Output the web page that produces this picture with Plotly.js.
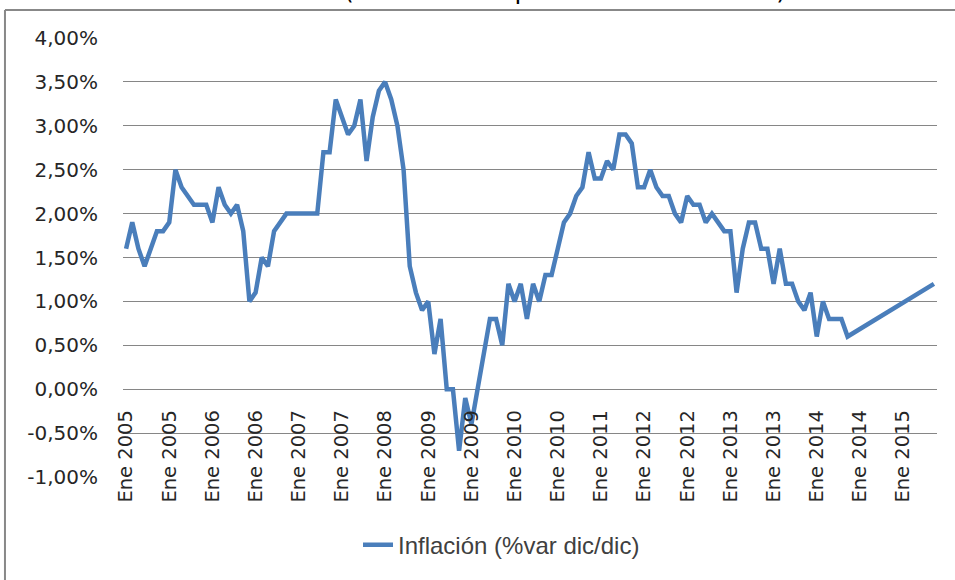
<!DOCTYPE html>
<html>
<head>
<meta charset="utf-8">
<script src="https://cdn.plot.ly/plotly-3.0.1.min.js"></script>
<style>html,body{margin:0;padding:0;background:#fff;}#chart{width:955px;height:580px;}</style>
</head>
<body>
<div id="chart"></div>
<script>
// Monthly categories Jan 2005 .. Dec 2015
const monthNames = ['Ene','Feb','Mar','Abr','May','Jun','Jul','Ago','Sep','Oct','Nov','Dic'];
const years = [2005,2006,2007,2008,2009,2010,2011,2012,2013,2014,2015];
const categories = [];
years.forEach(y => monthNames.forEach(m => categories.push(m + ' ' + y)));

// Inflación (%var dic/dic), one value per month; null = no data (line connects gap)
const inflacion = [
  1.6, 1.9, 1.6, 1.4, 1.6, 1.8, 1.8, 1.9, 2.5, 2.3, 2.2, 2.1,   // 2005
  2.1, 2.1, 1.9, 2.3, 2.1, 2.0, 2.1, 1.8, 1.0, 1.1, 1.5, 1.4,   // 2006
  1.8, 1.9, 2.0, 2.0, 2.0, 2.0, 2.0, 2.0, 2.7, 2.7, 3.3, 3.1,   // 2007
  2.9, 3.0, 3.3, 2.6, 3.1, 3.4, 3.5, 3.3, 3.0, 2.5, 1.4, 1.1,   // 2008
  0.9, 1.0, 0.4, 0.8, 0.0, 0.0, -0.7, -0.1, -0.4, 0.0, 0.4, 0.8, // 2009
  0.8, 0.5, 1.2, 1.0, 1.2, 0.8, 1.2, 1.0, 1.3, 1.3, 1.6, 1.9,   // 2010
  2.0, 2.2, 2.3, 2.7, 2.4, 2.4, 2.6, 2.5, 2.9, 2.9, 2.8, 2.3,   // 2011
  2.3, 2.5, 2.3, 2.2, 2.2, 2.0, 1.9, 2.2, 2.1, 2.1, 1.9, 2.0,   // 2012
  1.9, 1.8, 1.8, 1.1, 1.6, 1.9, 1.9, 1.6, 1.6, 1.2, 1.6, 1.2,   // 2013
  1.2, 1.0, 0.9, 1.1, 0.6, 1.0, 0.8, 0.8, 0.8, 0.6, null, null, // 2014
  null, null, null, null, null, null, null, null, null, null, null, 1.2 // 2015
];

// X tick labels as shown (every 7th month, formatted "Ene yyyy")
const tickLabels = ['Ene 2005','Ene 2005','Ene 2006','Ene 2006','Ene 2007','Ene 2007','Ene 2008',
  'Ene 2009','Ene 2009','Ene 2010','Ene 2010','Ene 2011','Ene 2012','Ene 2012','Ene 2013',
  'Ene 2013','Ene 2014','Ene 2014','Ene 2015'];
const tickStep = 7;
const tickVals = tickLabels.map((_, i) => categories[i * tickStep]);

// Y tick values and labels
const yTickVals = [-1, -0.5, 0, 0.5, 1, 1.5, 2, 2.5, 3, 3.5, 4];
const yTickText = ['-1,00%','-0,50%','0,00%','0,50%','1,00%','1,50%','2,00%','2,50%','3,00%','3,50%','4,00%'];

const seriesName = 'Inflación (%var dic/dic)';
const titleText = 'Inflación (variación respecto al año anterior)';

const trace = {
  x: categories,
  y: inflacion,
  type: 'scatter',
  mode: 'lines',
  name: seriesName,
  connectgaps: true,
  line: {color: '#4a7ebb', width: 4.5},
  hoverinfo: 'skip'
};

const layout = {
  width: 955,
  height: 580,
  margin: {l: 123, r: 18, t: 38, b: 103},
  paper_bgcolor: '#ffffff',
  plot_bgcolor: '#ffffff',
  showlegend: true,
  legend: {
    orientation: 'h',
    x: 0.465, xanchor: 'center',
    y: -0.155, yanchor: 'middle',
    font: {family: 'Liberation Sans Narrow, Liberation Sans, Arial, sans-serif', size: 24, color: '#404040'}
  },
  xaxis: {
    type: 'category',
    range: [-0.5, categories.length - 0.5],
    tickmode: 'array',
    tickvals: tickVals,
    ticktext: tickLabels,
    tickangle: -90,
    ticks: '',
    showgrid: false,
    showline: false,
    zeroline: false,
    anchor: 'free',
    position: 0.2,
    ticklabelstandoff: 16,
    tickfont: {family: 'DejaVu Sans, sans-serif', size: 19.5, color: '#262626'}
  },
  yaxis: {
    range: [-1, 4],
    tickmode: 'array',
    tickvals: yTickVals,
    ticktext: yTickText,
    showgrid: true,
    gridcolor: '#868686',
    gridwidth: 1,
    zeroline: false,
    showline: false,
    ticks: '',
    ticklabelstandoff: 24,
    tickfont: {family: 'DejaVu Sans, sans-serif', size: 20, color: '#262626'}
  },
  shapes: [
    {type: 'line', xref: 'paper', yref: 'paper', x0: -0.145, x1: 1.1, y0: 1.0638, y1: 1.0638,
     line: {color: '#888888', width: 2}},
    {type: 'line', xref: 'paper', yref: 'paper', x0: -0.145, x1: -0.145, y0: 1.0638, y1: -0.3,
     line: {color: '#888888', width: 2}}
  ],
  annotations: [
    {text: titleText, xref: 'paper', yref: 'paper', x: 0.473, y: 1.07, xanchor: 'center', yanchor: 'bottom',
     showarrow: false, font: {family: 'DejaVu Sans, sans-serif', size: 25, color: '#000000'}}
  ]
};

Plotly.newPlot('chart', [trace], layout, {displayModeBar: false, staticPlot: true});
</script>
</body>
</html>
